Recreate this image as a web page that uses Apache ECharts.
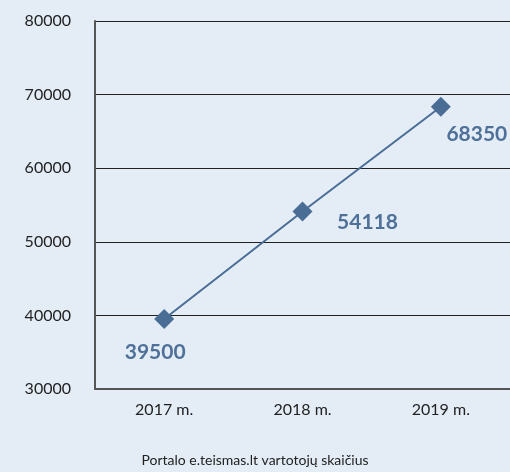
<!DOCTYPE html>
<html>
<head>
<meta charset="utf-8">
<script src="https://cdn.jsdelivr.net/npm/echarts@6/dist/echarts.min.js"></script>
<style>
  html, body { margin: 0; padding: 0; background: #e4edf6; }
  #chart { width: 510px; height: 472px; }
</style>
</head>
<body>
<div id="chart"></div>
<script>
const years = ['2017 m.', '2018 m.', '2019 m.'];
const users = [39500, 54118, 68350];
const labelOffsets = [[-9, 33], [65, 11], [36, 27]];
const chartTitle = 'Portalo e.teismas.lt vartotojų skaičius';

const font = 'Lato, "Open Sans", sans-serif';
const blue = '#4a6d96';

const chart = echarts.init(document.getElementById('chart'));
chart.setOption({
  backgroundColor: '#e4edf6',
  animation: false,
  title: {
    text: chartTitle,
    left: 'center',
    top: 448,
    textStyle: { fontFamily: font, fontSize: 14, fontWeight: 'normal', color: '#222' }
  },
  grid: { left: 95, top: 21, width: 426, height: 368 },
  xAxis: {
    type: 'category',
    data: years,
    axisLine: { lineStyle: { color: '#555', width: 2 } },
    axisTick: { inside: true, length: 6, lineStyle: { color: '#333' } },
    axisLabel: { fontFamily: font, fontSize: 16, color: '#222', margin: 13 }
  },
  yAxis: {
    type: 'value',
    min: 30000,
    max: 80000,
    interval: 10000,
    axisLine: { show: true, lineStyle: { color: '#555', width: 2 } },
    axisTick: { show: false },
    axisLabel: { fontFamily: font, fontSize: 16, color: '#222', margin: 24, formatter: v => String(v) },
    splitLine: { lineStyle: { color: '#222', width: 1 } }
  },
  series: [{
    type: 'line',
    data: users.map((v, i) => ({
      value: v,
      label: { offset: labelOffsets[i] }
    })),
    symbol: 'diamond',
    symbolSize: 20,
    lineStyle: { color: blue, width: 2 },
    itemStyle: { color: blue },
    label: {
      show: true,
      position: 'inside',
      fontFamily: font,
      fontSize: 21,
      fontWeight: 'bold',
      color: '#4e7099'
    }
  }]
});
</script>
</body>
</html>
